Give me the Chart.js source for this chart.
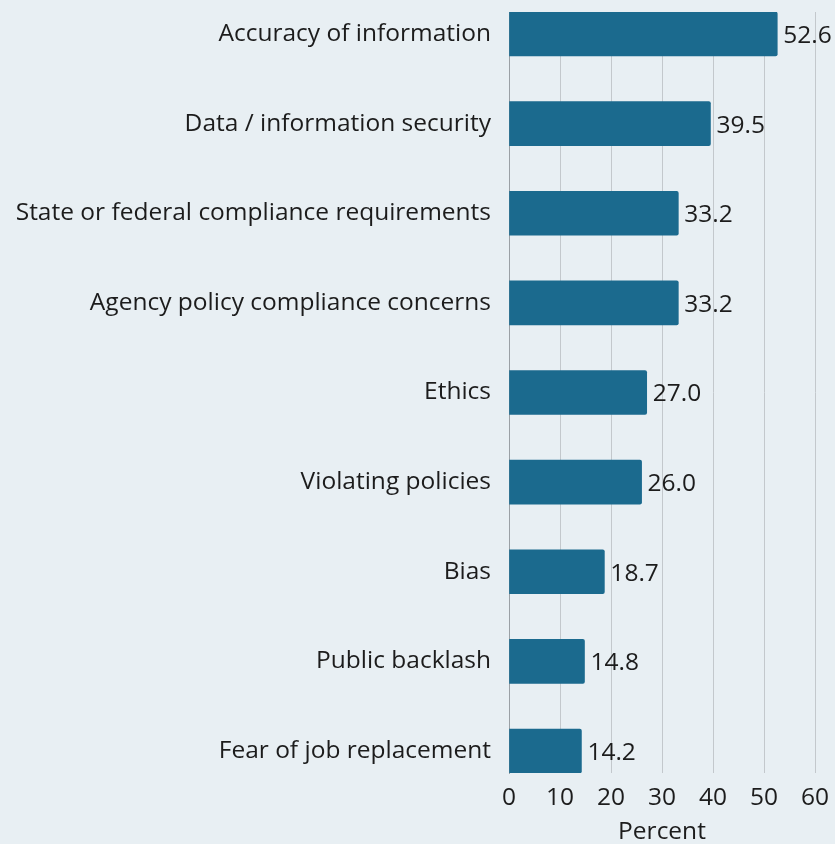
<!DOCTYPE html>
<html>
<head>
<meta charset="utf-8">
<script src="https://cdn.jsdelivr.net/npm/chart.js@4"></script>
<style>
  html, body { margin: 0; padding: 0; background: #e8eff3; }
  #wrap { width: 835px; height: 844px; }
</style>
</head>
<body>
<div id="wrap"><canvas id="chart"></canvas></div>
<script>
// Concerns about AI use, share of respondents (percent)
const categories = [
  "Accuracy of information",
  "Data / information security",
  "State or federal compliance requirements",
  "Agency policy compliance concerns",
  "Ethics",
  "Violating policies",
  "Bias",
  "Public backlash",
  "Fear of job replacement"
];
const percents = [52.6, 39.5, 33.2, 33.2, 27.0, 26.0, 18.7, 14.8, 14.2];
const xTicks = [0, 10, 20, 30, 40, 50, 60];

const FONT = "'Open Sans', sans-serif";
const TEXT = "#1c1c1c";
const BAR = "#1b6a8e";
const GRID = "#c3c8cc";
const SIZE = 24.5;

// value labels at the end of each bar
const valueLabels = {
  id: "valueLabels",
  afterDatasetsDraw(chart) {
    const ctx = chart.ctx;
    const meta = chart.getDatasetMeta(0);
    ctx.save();
    ctx.font = SIZE + "px " + FONT;
    ctx.fillStyle = TEXT;
    ctx.textAlign = "left";
    ctx.textBaseline = "middle";
    meta.data.forEach((bar, i) => {
      ctx.fillText(percents[i].toFixed(1), bar.x + 6, bar.y + 2);
    });
    ctx.restore();
  }
};

// half a bar, in category units, so the bars sit flush with the plot edges
const half = 0.2458;

new Chart(document.getElementById("chart"), {
  type: "bar",
  data: {
    datasets: [{
      data: percents.map((v, i) => ({ x: v, y: i })),
      backgroundColor: BAR,
      borderRadius: 2,
      borderSkipped: "start",
      barThickness: 44
    }]
  },
  options: {
    indexAxis: "y",
    responsive: true,
    maintainAspectRatio: false,
    animation: false,
    layout: { padding: { top: 12, right: 20, bottom: 0, left: 0 } },
    plugins: { legend: { display: false }, tooltip: { enabled: false } },
    scales: {
      x: {
        type: "linear",
        min: 0,
        max: 60,
        afterBuildTicks: axis => { axis.ticks = xTicks.map(v => ({ value: v })); },
        afterFit: axis => { axis.height = 71; axis.paddingLeft = 0; axis.paddingRight = 0; },
        grid: { color: GRID, lineWidth: 1, drawTicks: false },
        border: { display: false },
        ticks: { color: TEXT, font: { family: FONT, size: SIZE }, padding: 10, maxRotation: 0 },
        title: {
          display: true,
          text: "Percent",
          color: TEXT,
          font: { family: FONT, size: SIZE, lineHeight: 1 },
          padding: { top: 0, bottom: 0 }
        }
      },
      y: {
        type: "linear",
        reverse: true,
        offset: false,
        min: -half,
        max: categories.length - 1 + half,
        afterBuildTicks: axis => { axis.ticks = categories.map((_, i) => ({ value: i })); },
        afterFit: axis => { axis.width = 509; axis.paddingTop = 0; axis.paddingBottom = 0; },
        grid: { display: false, drawTicks: false },
        border: { display: true, color: "#9aa0a5", width: 1 },
        ticks: {
          color: TEXT,
          font: { family: FONT, size: SIZE },
          padding: 18,
          callback: v => categories[v] ?? ""
        }
      }
    }
  },
  plugins: [valueLabels]
});
</script>
</body>
</html>
